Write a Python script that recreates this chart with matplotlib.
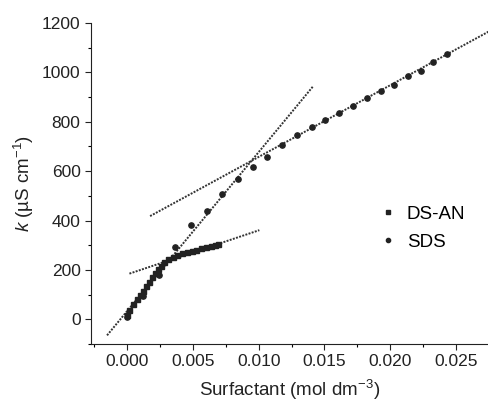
import numpy as np
import matplotlib
matplotlib.use("Agg")
import matplotlib.pyplot as plt
from matplotlib.ticker import MultipleLocator

plt.rcParams["font.family"] = ["Liberation Sans", "DejaVu Sans"]
plt.rcParams["mathtext.fontset"] = "custom"
plt.rcParams["mathtext.rm"] = "Liberation Sans"
plt.rcParams["mathtext.it"] = "Liberation Sans:italic"

# DS-AN conductivity (squares)
dsan_x = [0.0, 0.00017, 0.00043, 0.00074, 0.00099, 0.00119, 0.00144, 0.00169,
          0.00190, 0.00213, 0.00238, 0.00258, 0.00281, 0.00309, 0.00352, 0.00382,
          0.00416, 0.00454, 0.00492, 0.00524, 0.00560, 0.00600, 0.00636, 0.00669,
          0.00694]
dsan_k = [16, 39, 61, 81, 100, 114, 134, 152, 170, 186, 202, 215, 233, 243,
          254, 260, 268, 272, 276, 280, 287, 291, 296, 302, 306]

# SDS conductivity (circles)
sds_x = [0.0, 0.0012, 0.0024, 0.00365, 0.00486, 0.00610, 0.00724, 0.00841,
         0.00955, 0.01066, 0.01180, 0.01294, 0.01404, 0.01507, 0.01613, 0.01720,
         0.01821, 0.01928, 0.02029, 0.02133, 0.02232, 0.02328, 0.02429]
sds_k = [8, 95, 180, 293, 380, 440, 506, 568, 618, 658, 707, 745, 778, 807,
         834, 865, 895, 926, 950, 985, 1007, 1044, 1075]

# fitted lines (x endpoints, k endpoints)
fit_pre_x, fit_pre_k = [-0.00152, 0.01411], [-65, 942]
fit_dsan_x, fit_dsan_k = [0.00018, 0.01005], [185, 361]
fit_sds_x, fit_sds_k = [0.00175, 0.0275], [418, 1166]

fig = plt.figure(figsize=(4.89, 4.08), dpi=100)
ax = fig.add_axes([91 / 489, 64 / 408, 398 / 489, 321 / 408])

line_style = dict(color="#333333", linestyle=(0, (1, 0.7)), linewidth=1.4)
for xs, ks in [(fit_pre_x, fit_pre_k), (fit_dsan_x, fit_dsan_k), (fit_sds_x, fit_sds_k)]:
    ax.plot(xs, ks, **line_style)

ax.plot(sds_x, sds_k, "o", color="#222222", markersize=3.8, linestyle="none",
        label="SDS")
ax.plot(dsan_x, dsan_k, "s", color="#222222", markersize=3.6, linestyle="none",
        label="DS-AN")

ax.set_xlim(-0.00274, 0.0275)
ax.set_ylim(-100, 1200)
ax.xaxis.set_major_locator(MultipleLocator(0.005))
ax.xaxis.set_minor_locator(MultipleLocator(0.0025))
ax.yaxis.set_major_locator(MultipleLocator(200))
ax.yaxis.set_minor_locator(MultipleLocator(100))
ax.xaxis.set_major_formatter(plt.FormatStrFormatter("%.3f"))
ax.tick_params(which="major", direction="out", length=4, width=0.8,
               labelsize=12.5, colors="#222222")
ax.tick_params(which="minor", direction="out", length=2.5, width=0.8)
for side in ["top", "right"]:
    ax.spines[side].set_visible(False)
ax.spines["left"].set_color("#222222")
ax.spines["bottom"].set_color("#222222")

ax.set_xlabel("Surfactant (mol dm$^{-3}$)", fontsize=13.5, color="#222222",
              labelpad=6)
ax.set_ylabel("$\\mathit{k}$ (µS cm$^{-1}$)", fontsize=13.5, color="#222222",
              labelpad=4)

handles, labels = ax.get_legend_handles_labels()
ax.legend(handles[::-1], labels[::-1], frameon=False, fontsize=13.5,
          handlelength=0.6, handletextpad=0.7, labelspacing=0.6, markerscale=0.8,
          loc="upper left", bbox_to_anchor=(375 / 489, 1 - 198 / 408),
          bbox_transform=fig.transFigure, borderaxespad=0)

fig.savefig("out.png", dpi=100)
